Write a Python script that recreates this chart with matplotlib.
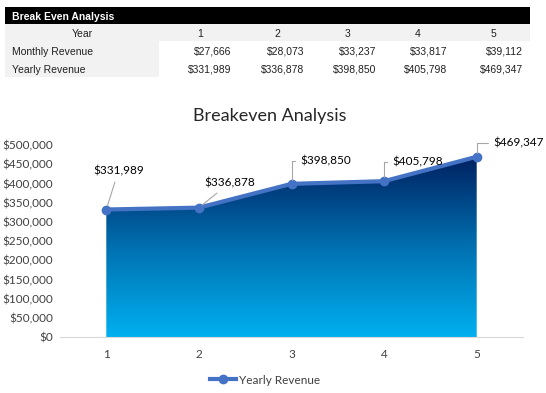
import numpy as np
import matplotlib.pyplot as plt
from matplotlib.patches import Rectangle
from matplotlib.colors import LinearSegmentedColormap
from matplotlib.ticker import FuncFormatter

# table + chart data
years = [1, 2, 3, 4, 5]
monthly_revenue = [27666, 28073, 33237, 33817, 39112]
yearly_revenue = [331989, 336878, 398850, 405798, 469347]
row_labels = ["Year", "Monthly Revenue", "Yearly Revenue"]

W, H = 546, 393
fig = plt.figure(figsize=(W / 100, H / 100), dpi=100)
fig.patch.set_facecolor("white")


def fx(px):
    return px / W


def fy(py):
    return 1 - py / H


# ---- table at the top ----
tfont = ["Liberation Sans", "DejaVu Sans"]
fig.patches.append(Rectangle((fx(5), fy(24)), fx(525), 17 / H, transform=fig.transFigure,
                             facecolor="black", edgecolor="none"))
fig.patches.append(Rectangle((fx(5), fy(41)), fx(525), 17 / H, transform=fig.transFigure,
                             facecolor="#f2f2f2", edgecolor="none"))
fig.patches.append(Rectangle((fx(5), fy(77)), fx(154), 36 / H, transform=fig.transFigure,
                             facecolor="#f2f2f2", edgecolor="none"))
fig.text(fx(12), fy(16.5), "Break Even Analysis", color="white", fontsize=7.5,
         fontweight="bold", family=tfont, va="center")
fig.text(fx(93), fy(34), row_labels[0], fontsize=7.5, family=tfont, ha="right",
         va="center", color="#202020")
fig.text(fx(12), fy(52), row_labels[1], fontsize=7.5, family=tfont, va="center",
         color="#202020")
fig.text(fx(12), fy(70), row_labels[2], fontsize=7.5, family=tfont, va="center",
         color="#202020")

col_centers = [200, 277, 348, 418, 493]
col_rights = [231, 304, 376, 447, 523]
for i in range(len(years)):
    fig.text(fx(col_centers[i]), fy(34), str(years[i]), fontsize=7.5, family=tfont,
             ha="center", va="center", color="#202020")
    fig.text(fx(col_rights[i]), fy(52), f"${monthly_revenue[i]:,}", fontsize=7.5,
             family=tfont, ha="right", va="center", color="#202020")
    fig.text(fx(col_rights[i]), fy(70), f"${yearly_revenue[i]:,}", fontsize=7.5,
             family=tfont, ha="right", va="center", color="#202020")

# ---- chart ----
cfont = ["Lato", "DejaVu Sans"]
ax = fig.add_axes([fx(60), fy(337), fx(523 - 60), (337 - 145) / H])

# gradient area under the line
poly = ax.fill_between(years, yearly_revenue, 0, facecolor="none", edgecolor="none")
cmap = LinearSegmentedColormap.from_list("area", ["#00b0f0", "#0070b0", "#002060"])
grad = np.linspace(0, 1, 256).reshape(-1, 1)
img = ax.imshow(grad, cmap=cmap, origin="lower", aspect="auto",
                extent=[1, 5, 0, max(yearly_revenue)], zorder=1)
img.set_clip_path(poly.get_paths()[0], transform=ax.transData)
ax.set_xlim(0.5, 5.5)
ax.set_ylim(0, 500000)

ax.plot(years, yearly_revenue, color="#4472c4", lw=3, marker="o", ms=6,
        zorder=3, label="Yearly Revenue")

# data labels with leader lines
lab_pos = [(1.13, 432000, "arc3"), (2.33, 401000, "arc3"),
           (3.37, 458000, "angle,angleA=0,angleB=90,rad=0"),
           (4.36, 456000, "angle,angleA=0,angleB=90,rad=0"),
           (5.45, 505000, "angle,angleA=0,angleB=90,rad=0")]
for i, (lx, ly, cs) in enumerate(lab_pos):
    ax.annotate(f"${yearly_revenue[i]:,}", xy=(years[i], yearly_revenue[i]),
                xytext=(lx, ly), ha="center", va="center", fontsize=8.5,
                family=cfont, annotation_clip=False,
                arrowprops=dict(arrowstyle="-", color="#a6a6a6", lw=0.8,
                                connectionstyle=cs, shrinkA=2, shrinkB=3))

ax.set_xticks(years)
ax.set_yticks(np.arange(0, 500001, 50000))
ax.yaxis.set_major_formatter(FuncFormatter(lambda v, p: f"${v:,.0f}"))
for lbl in ax.get_xticklabels() + ax.get_yticklabels():
    lbl.set_family(cfont)
    lbl.set_fontsize(8.5)
    lbl.set_color("#404040")
ax.tick_params(length=0, pad=5)
ax.tick_params(axis="x", pad=9)
for s in ["top", "right", "left"]:
    ax.spines[s].set_visible(False)
ax.spines["bottom"].set_color("#d9d9d9")

fig.text(fx(270), fy(116), "Breakeven Analysis", fontsize=13, family=cfont,
         ha="center", va="center", color="#262626")

leg = fig.legend(loc="center", bbox_to_anchor=(fx(265), fy(380)), frameon=False,
                 prop={"family": cfont, "size": 8.5}, handlelength=2.2, handletextpad=0.2)
for t in leg.get_texts():
    t.set_color("#404040")

fig.savefig("out.png", dpi=100)
